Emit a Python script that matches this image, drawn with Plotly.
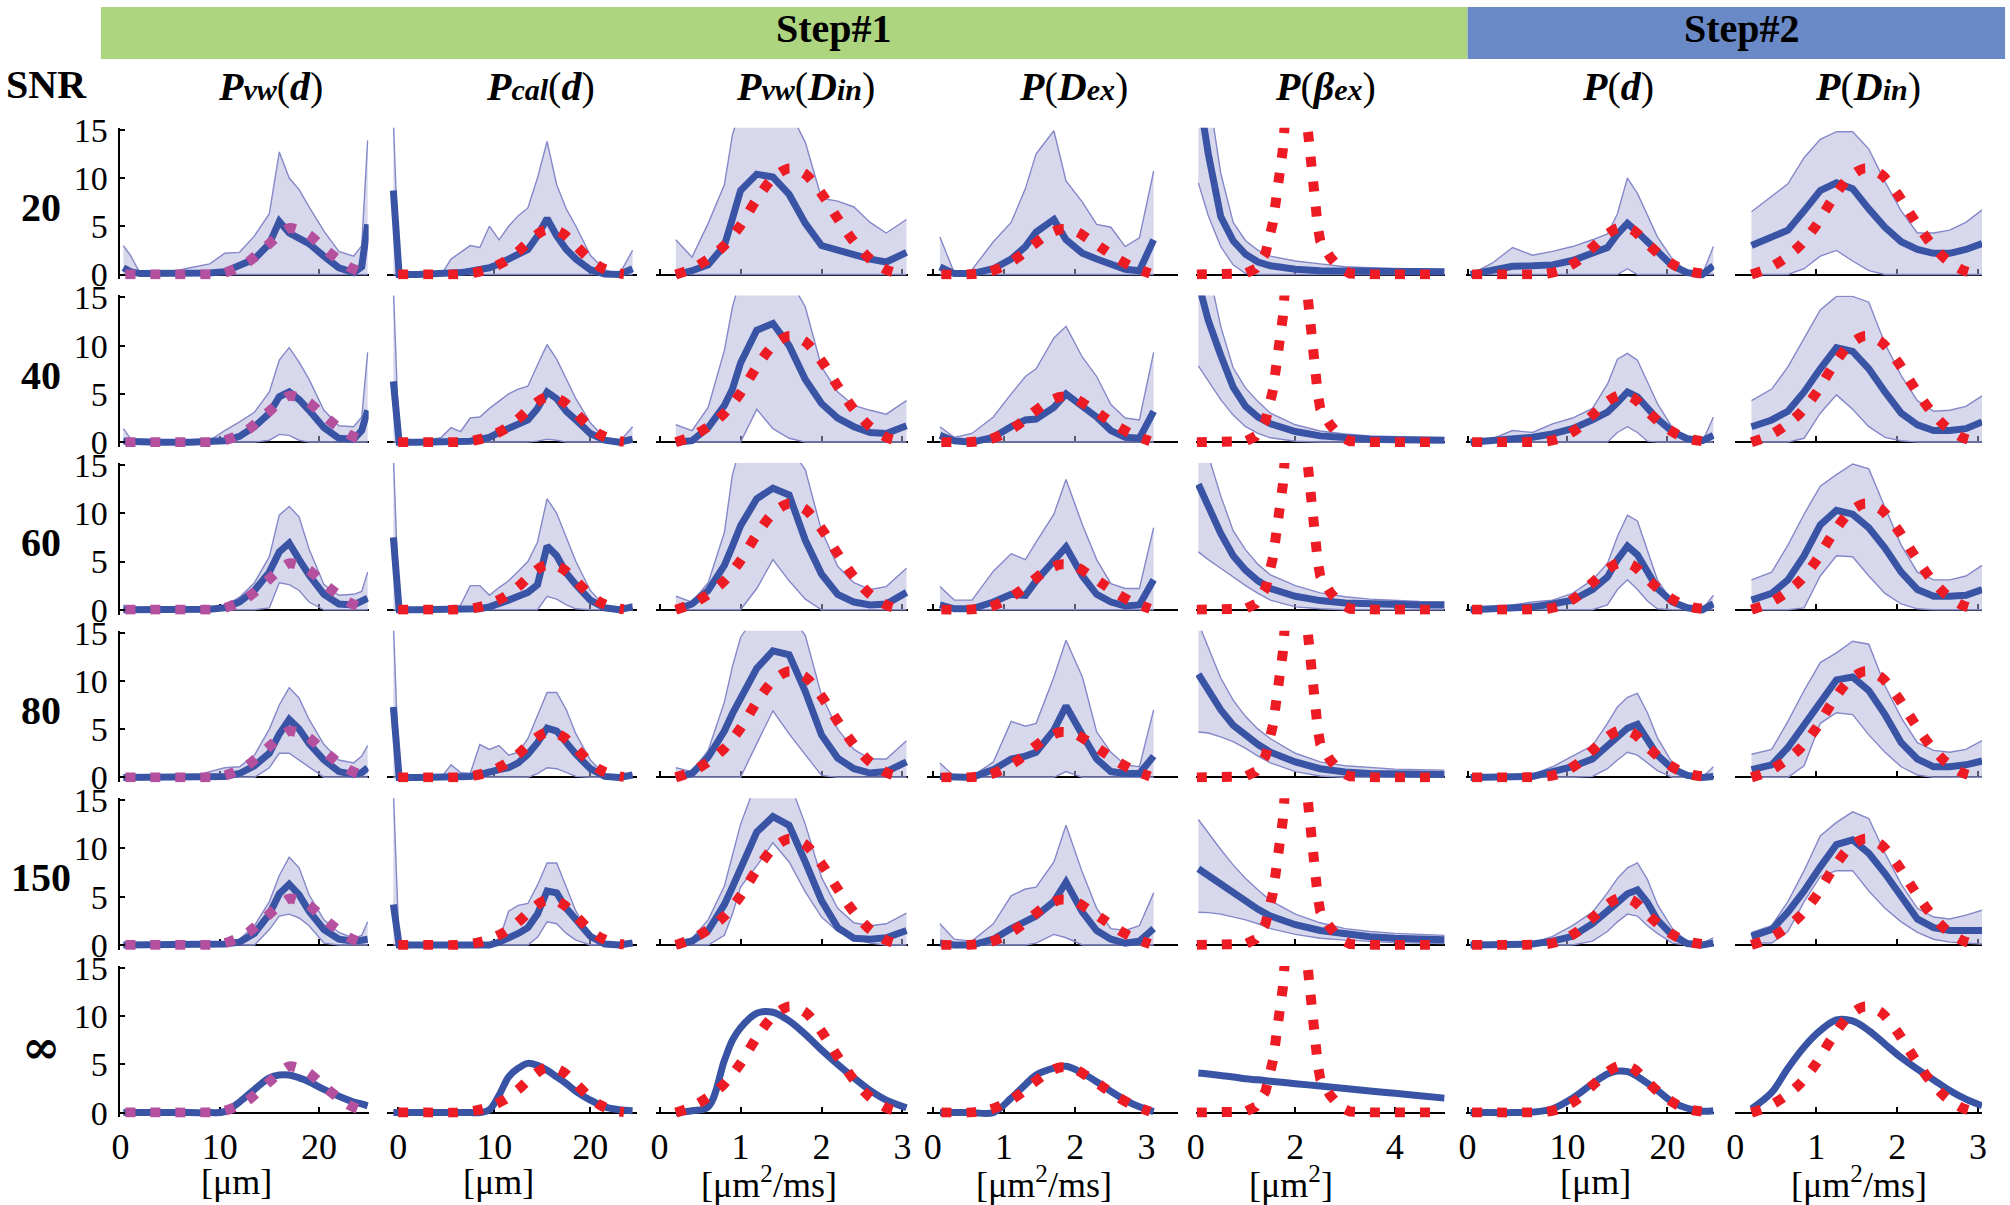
import plotly.graph_objects as go

W, H = 2010, 1205
FONT = "Liberation Serif"
# measured mapping page-px -> picture-px of the photographing step (used to pre-compensate)
CAL_AX, CAL_BX = 0.994, 7.0
CAL_AY, CAL_BY = 0.975, 15.0

# ---------------- text ----------------
STEP_LABELS = ["Step#1", "Step#2"]
SNR_LABELS = ["20", "40", "60", "80", "150", "∞"]
def _sub(s):
    return "<span style='font-size:30px'><b><i>" + s + "</i></b></span>"
_P = "<b><i>P</i></b>"
COLUMN_TITLES = [
    _P + _sub("vw") + "(<b><i>d</i></b>)",
    _P + _sub("cal") + "(<b><i>d</i></b>)",
    _P + _sub("vw") + "(<b><i>D</i></b>" + _sub("in") + ")",
    _P + "(<b><i>D</i></b>" + _sub("ex") + ")",
    _P + "(<b><i>β</i></b>" + _sub("ex") + ")",
    _P + "(<b><i>d</i></b>)",
    _P + "(<b><i>D</i></b>" + _sub("in") + ")",
]
AXIS_TITLES = ["[μm]", "[μm]", "[μm<sup>2</sup>/ms]", "[μm<sup>2</sup>/ms]",
               "[μm<sup>2</sup>]", "[μm]", "[μm<sup>2</sup>/ms]"]
X_TICKS = [[0, 10, 20], [0, 10, 20], [0, 1, 2, 3], [0, 1, 2, 3], [0, 2, 4],
           [0, 10, 20], [0, 1, 2, 3]]
Y_TICKS = [0, 5, 10, 15]

# ---------------- data ----------------
# Column 1: Pvw(d)
X_PVW_D = [0.3, 1, 2, 4, 7, 9, 10.5, 12, 13.5, 15, 16, 17, 18, 19, 20.5, 22, 23.5, 24.3, 24.9]
PVW_D_MEAN = [
    [0.7, 0.3, 0.1, 0.1, 0.1, 0.15, 0.3, 0.9, 1.6, 3.2, 5.5, 4.3, 3.8, 3.2, 1.9, 0.7, 0.2, 0.8, 5.2],
    [0.1, 0.05, 0, 0, 0, 0.05, 0.15, 0.6, 1.6, 3.0, 4.7, 5.2, 4.4, 3.3, 1.5, 0.4, 0.3, 1.2, 3.3],
    [0, 0, 0, 0, 0, 0.05, 0.2, 0.8, 2.0, 3.9, 6.0, 6.9, 5.2, 3.6, 1.6, 0.6, 0.5, 0.8, 1.2],
    [0, 0, 0, 0, 0, 0.05, 0.1, 0.4, 1.2, 2.5, 4.5, 6.0, 5.0, 3.5, 1.8, 0.6, 0.3, 0.5, 1.0],
    [0, 0, 0, 0, 0, 0.05, 0.1, 0.3, 1.2, 3.2, 5.3, 6.3, 5.2, 3.5, 1.6, 0.6, 0.4, 0.5, 0.6],
    [0, 0, 0, 0, 0, 0, 0.1, 1.1, 2.4, 3.6, 3.9, 3.9, 3.6, 3.2, 2.4, 1.7, 1.1, 0.9, 0.7],
]
PVW_D_UP = [
    [3.0, 2.0, 0.1, 0, 0.7, 1.1, 2.2, 2.3, 4.0, 6.3, 12.7, 10.0, 8.8, 7.0, 4.5, 2.4, 1.9, 3.0, 13.9],
    [1.4, 0.4, 0, 0, 0, 0.2, 1.2, 2.1, 3.1, 5.2, 8.5, 9.8, 8.3, 6.5, 3.3, 1.7, 1.6, 2.6, 9.3],
    [0.5, 0.1, 0, 0, 0, 0.1, 0.4, 1.3, 2.8, 5.5, 9.8, 10.7, 9.6, 6.3, 2.6, 1.5, 1.6, 1.9, 3.9],
    [0, 0, 0, 0, 0, 0.6, 1.0, 1.1, 2.3, 5.0, 7.5, 9.3, 8.2, 6.0, 3.4, 1.8, 1.5, 2.2, 3.3],
    [0, 0, 0, 0, 0, 0, 0.1, 0.6, 2.0, 4.5, 7.2, 9.1, 8.0, 5.2, 2.6, 1.3, 0.7, 1.0, 2.4],
]
PVW_D_LO = [
    [0, 0, 0, 0, 0, 0, 0, 0, 0, 0, 0, 0, 0, 0, 0, 0, 0, 0, 0],
    [0, 0, 0, 0, 0, 0, 0, 0, 0, 0.2, 0.8, 0.7, 0.2, 0, 0, 0, 0, 0, 0],
    [0, 0, 0, 0, 0, 0, 0, 0, 0, 0.2, 2.8, 2.6, 2.0, 0.8, 0, 0, 0, 0, 0],
    [0, 0, 0, 0, 0, 0, 0, 0, 0, 1.0, 2.5, 2.5, 1.8, 1.1, 0, 0, 0, 0, 0],
    [0, 0, 0, 0, 0, 0, 0, 0, 0, 1.6, 3.0, 3.2, 2.8, 2.0, 0.2, 0, 0, 0, 0],
]
T_PVW_D_X = [0.5, 3, 5.5, 8, 10, 11, 12, 13, 14, 15, 16, 17, 18, 19, 20, 21, 22, 23, 24, 24.7]
T_PVW_D = [0, 0, 0, 0, 0.05, 0.35, 0.8, 1.4, 2.3, 3.2, 4.1, 4.8, 4.6, 4.1, 3.2, 2.3, 1.5, 0.8, 0.35, 0.2]

# Column 2: Pcal(d)
X_PCAL_D = [-0.5, 0.1, 2, 4.5, 5.5, 6.5, 7.5, 8.5, 9.5, 10.5, 11.5, 12.5, 13.5, 14.5, 15.5, 16.5, 17.5, 18.5, 20, 21.5, 23, 24.4]
PCAL_D_MEAN = [
    [8.7, 0, 0, 0.05, 0.1, 0.2, 0.35, 0.55, 0.7, 1.1, 1.6, 2.1, 2.6, 4.0, 5.8, 4.0, 2.6, 1.6, 0.5, 0.05, 0, 0.6],
    [6.3, 0, 0, 0, 0.02, 0.05, 0.1, 0.3, 0.5, 1.0, 1.5, 1.9, 2.3, 3.5, 5.2, 4.5, 3.2, 2.3, 0.9, 0.2, 0, 0.3],
    [7.5, 0, 0, 0, 0, 0, 0.05, 0.1, 0.3, 0.6, 1.0, 1.4, 1.8, 2.6, 6.6, 5.6, 3.8, 2.6, 1.0, 0.2, 0, 0.3],
    [7.3, 0, 0, 0, 0, 0, 0.1, 0.3, 0.6, 0.8, 1.0, 1.5, 2.4, 3.6, 5.1, 4.8, 3.6, 2.4, 0.9, 0.1, 0, 0.25],
    [4.2, 0, 0, 0, 0, 0, 0, 0, 0, 0.3, 0.7, 1.2, 1.8, 3.2, 5.6, 5.4, 3.8, 2.6, 0.9, 0.1, 0, 0.2],
    [0, 0, 0, 0, 0, 0, 0, 0, 0.3, 1.8, 3.7, 4.6, 5.1, 4.9, 4.4, 3.7, 3.0, 2.2, 1.3, 0.6, 0.3, 0.2],
]
PCAL_D_UP = [
    [16, 0, 0, 0, 1.6, 2.3, 3.0, 2.8, 5.0, 3.6, 5.0, 6.1, 6.9, 10.0, 13.8, 9.3, 6.8, 5.0, 2.0, 0.5, 0, 2.5],
    [16, 0, 0, 0.5, 1.5, 1.1, 2.5, 2.6, 3.5, 4.3, 5.0, 5.5, 5.8, 8.0, 10.1, 8.6, 6.5, 4.5, 2.0, 0.4, 0, 1.6],
    [16, 0, 0, 0, 0, 0.5, 2.5, 2.5, 1.5, 2.3, 3.0, 4.0, 5.0, 7.0, 11.5, 10.0, 7.5, 5.0, 2.0, 0.4, 0.1, 0.6],
    [16, 0, 0, 0, 1.3, 0.5, 0.4, 3.4, 2.9, 3.3, 2.3, 2.6, 4.0, 6.5, 8.8, 8.8, 7.0, 4.5, 1.8, 0.3, 0, 0.25],
    [16, 0, 0, 0, 0, 0, 0, 0, 0, 0.5, 3.5, 4.1, 4.3, 6.2, 8.5, 8.5, 6.0, 3.5, 1.0, 0.1, 0, 0.2],
]
PCAL_D_LO = [
    [0, 0, 0, 0, 0, 0, 0, 0, 0, 0, 0, 0, 0, 0, 0, 0, 0, 0, 0, 0, 0, 0],
    [0, 0, 0, 0, 0, 0, 0, 0, 0, 0, 0, 0, 0, 0.1, 0.3, 0.2, 0, 0, 0, 0, 0, 0],
    [0, 0, 0, 0, 0, 0, 0, 0, 0, 0, 0, 0, 0, 0, 1.4, 1.1, 0.5, 0.1, 0, 0, 0, 0],
    [0, 0, 0, 0, 0, 0, 0, 0, 0, 0, 0, 0, 0, 0.4, 1.0, 0.9, 0.5, 0.1, 0, 0, 0, 0],
    [0, 0, 0, 0, 0, 0, 0, 0, 0, 0, 0, 0, 0, 0.8, 2.4, 2.2, 1.2, 0.5, 0, 0, 0, 0],
]
T_PCAL_D_X = [0, 3, 6, 8, 9.5, 11, 12.5, 13.8, 15, 16, 17.2, 18.5, 19.7, 21, 22.5, 23.5]
T_PCAL_D = [0, 0, 0, 0.2, 0.6, 1.3, 2.4, 3.6, 4.5, 4.7, 4.2, 3.0, 1.8, 0.8, 0.2, 0.05]

# Column 3: Pvw(Din)
X_PVW_DIN = [0.2, 0.4, 0.6, 0.8, 0.9, 1.0, 1.2, 1.4, 1.6, 1.8, 2.0, 2.2, 2.4, 2.6, 2.8, 3.05]
PVW_DIN_MEAN = [
    [0, 0.4, 1.0, 3.0, 5.8, 8.7, 10.4, 10.1, 8.3, 5.3, 3.0, 2.5, 2.1, 1.6, 1.3, 2.3],
    [0, 0.15, 1.5, 3.8, 5.5, 8.2, 11.6, 12.3, 10.0, 6.5, 4.0, 2.5, 1.6, 1.0, 0.9, 1.7],
    [0, 0.6, 2.0, 4.6, 6.6, 8.7, 11.5, 12.6, 11.9, 7.2, 3.7, 1.6, 0.8, 0.5, 0.6, 1.8],
    [0, 0.4, 2.1, 4.8, 6.6, 8.3, 11.3, 13.1, 12.7, 8.9, 4.4, 2.0, 0.9, 0.45, 0.6, 1.6],
    [0, 0.4, 1.5, 4.2, 6.0, 7.8, 11.7, 13.3, 12.4, 8.6, 4.6, 1.8, 0.7, 0.6, 0.75, 1.5],
    [0, 0.2, 0.6, 5.4, 7.5, 8.8, 10.3, 10.4, 9.5, 8.1, 6.5, 5.0, 3.6, 2.3, 1.3, 0.5],
]
PVW_DIN_UP = [
    [3.6, 1.8, 5.3, 9.3, 14.5, 17, 18, 18, 17, 13.7, 7.9, 7.6, 7.0, 5.4, 4.3, 5.7],
    [1.8, 1.2, 3.6, 9.5, 14, 17, 17, 17, 17, 14, 7.8, 5.2, 3.8, 3.3, 2.9, 4.3],
    [1.4, 0.8, 2.8, 8.0, 14, 17, 17, 17, 17, 14.5, 8.2, 4.5, 2.8, 2.1, 2.4, 4.3],
    [1.0, 0.6, 2.8, 7.8, 11.5, 14.5, 17, 17, 17, 14.7, 8.5, 5.0, 2.9, 1.9, 1.9, 3.8],
    [0.4, 0.7, 2.6, 6.1, 9.3, 12.5, 17, 17, 17, 12.5, 7.0, 3.8, 2.3, 2.0, 2.2, 3.3],
]
PVW_DIN_LO = [
    [0, 0, 0, 0, 0, 0, 0, 0, 0, 0, 0, 0, 0, 0, 0, 0],
    [0, 0, 0, 0, 0, 0, 3.4, 1.4, 0.4, 0, 0, 0, 0, 0, 0, 0],
    [0, 0, 0, 0, 0, 0, 2.2, 5.2, 3.0, 1.1, 0, 0, 0, 0, 0, 0],
    [0, 0, 0, 0, 0, 0, 3.5, 6.9, 4.5, 2.3, 0.2, 0, 0, 0, 0, 0],
    [0, 0, 0, 1.0, 3.2, 6.0, 8.2, 10.6, 8.6, 5.5, 2.9, 1.4, 0.6, 0.2, 0, 0],
]
T_DIN_X = [0.2, 0.4, 0.6, 0.8, 1.0, 1.2, 1.4, 1.6, 1.8, 2.0, 2.2, 2.4, 2.6, 2.8, 3.0]
T_DIN = [0, 0.6, 1.6, 3.0, 5.1, 7.8, 10.0, 11.0, 10.4, 8.4, 5.8, 3.4, 1.6, 0.5, 0.0]

# Column 4: P(Dex)
X_DEX = [0.1, 0.3, 0.55, 0.85, 1.1, 1.3, 1.45, 1.7, 1.87, 2.1, 2.3, 2.5, 2.7, 2.9, 3.1]
DEX_MEAN = [
    [0.8, 0.1, 0.1, 0.6, 1.6, 2.9, 4.4, 5.7, 3.6, 2.2, 1.6, 1.1, 0.55, 0.4, 3.6],
    [0.7, 0.15, 0, 0.5, 1.6, 2.3, 2.4, 3.6, 5.0, 3.8, 2.6, 1.2, 0.5, 0.4, 3.2],
    [0.5, 0.1, 0.1, 0.8, 1.6, 1.5, 3.0, 5.1, 6.5, 3.5, 1.6, 0.8, 0.4, 0.5, 3.1],
    [0.1, 0, 0, 0.8, 1.9, 2.2, 2.6, 4.9, 7.4, 4.4, 1.9, 0.6, 0.4, 0.4, 2.2],
    [0.2, 0, 0, 0.6, 1.7, 2.4, 3.0, 4.5, 6.5, 3.4, 1.5, 0.6, 0.2, 0.4, 1.7],
    [0, 0, 0, 0, 1.5, 2.9, 3.9, 4.6, 4.8, 4.1, 3.2, 2.2, 1.3, 0.6, 0.1],
]
DEX_UP = [
    [3.9, 0.2, 0.5, 3.4, 5.4, 8.9, 12.5, 14.9, 9.7, 7.5, 5.2, 4.9, 2.9, 3.8, 10.7],
    [1.6, 0.5, 0.9, 2.6, 5.0, 6.8, 7.6, 10.8, 12.0, 8.8, 6.8, 3.9, 2.5, 2.3, 9.3],
    [2.4, 1.0, 1.0, 4.0, 5.8, 5.2, 7.0, 9.9, 13.5, 8.8, 5.2, 2.7, 2.2, 2.2, 8.5],
    [1.5, 0.1, 0.1, 1.6, 5.8, 5.3, 5.6, 10.4, 14.2, 10.4, 4.7, 2.6, 1.3, 1.1, 7.0],
    [2.2, 0.6, 0.4, 2.2, 5.1, 5.8, 6.0, 8.6, 12.4, 7.5, 3.8, 1.7, 1.5, 2.0, 5.4],
]
DEX_LO = [
    [0, 0, 0, 0, 0, 0, 0, 0, 0, 0, 0, 0, 0, 0, 0],
    [0, 0, 0, 0, 0, 0, 0, 0, 0, 0, 0, 0, 0, 0, 0],
    [0, 0, 0, 0, 0, 0, 0, 0, 0, 0, 0, 0, 0, 0, 0],
    [0, 0, 0, 0, 0, 0, 0, 0, 0.6, 0, 0, 0, 0, 0, 0],
    [0, 0, 0, 0, 0, 0, 0.2, 1.1, 0.75, 0, 0, 0, 0, 0, 0],
]
T_DEX_X = [0.12, 0.5, 0.8, 1.0, 1.2, 1.4, 1.6, 1.8, 2.0, 2.2, 2.4, 2.6, 2.8, 3.05]
T_DEX = [0, 0, 0.3, 0.9, 1.8, 3.0, 4.1, 4.7, 4.5, 3.6, 2.6, 1.6, 0.8, 0.1]

# Column 5: P(beta_ex)
X_BEX = [0.05, 0.25, 0.5, 0.75, 1.0, 1.25, 1.5, 2.0, 2.5, 3.0, 3.5, 4.0, 4.5, 5.0]
BEX_MEAN = [
    [19, 12.5, 6.0, 3.5, 2.1, 1.3, 0.9, 0.55, 0.4, 0.4, 0.35, 0.3, 0.3, 0.3],
    [16.5, 12.6, 9.0, 5.7, 3.7, 2.6, 1.9, 1.1, 0.65, 0.4, 0.3, 0.25, 0.2, 0.2],
    [13, 10.8, 7.9, 5.6, 4.1, 3.0, 2.2, 1.4, 0.95, 0.7, 0.6, 0.55, 0.5, 0.5],
    [10.7, 9.0, 7.0, 5.4, 4.3, 3.4, 2.6, 1.6, 0.9, 0.55, 0.4, 0.35, 0.3, 0.3],
    [7.9, 7.2, 6.3, 5.4, 4.5, 3.7, 3.0, 2.1, 1.5, 1.1, 0.85, 0.7, 0.6, 0.55],
    [4.1, 4.0, 3.85, 3.7, 3.5, 3.4, 3.25, 3.0, 2.75, 2.5, 2.25, 2.0, 1.75, 1.5],
]
BEX_UP = [
    [22, 19, 10.5, 5.4, 3.5, 2.5, 1.9, 1.4, 1.1, 0.8, 0.7, 0.6, 0.6, 0.5],
    [20, 18, 12, 7.7, 5.6, 4.2, 3.0, 1.8, 1.15, 0.85, 0.65, 0.55, 0.5, 0.45],
    [16, 16, 11.8, 8.2, 6.2, 4.7, 3.6, 2.5, 1.75, 1.35, 1.1, 0.95, 0.85, 0.8],
    [16, 13.5, 10.3, 8.0, 6.3, 5.0, 4.0, 2.5, 1.6, 1.2, 1.0, 0.85, 0.8, 0.75],
    [13, 11.6, 9.9, 8.3, 6.9, 5.7, 4.6, 3.2, 2.3, 1.7, 1.4, 1.2, 1.1, 1.0],
]
BEX_LO = [
    [9.5, 6.1, 2.9, 1.0, 0.1, 0, 0, 0, 0, 0, 0, 0, 0, 0],
    [7.9, 6.3, 4.4, 2.8, 1.6, 0.9, 0.45, 0.1, 0, 0, 0, 0, 0, 0],
    [6.0, 5.2, 4.3, 3.4, 2.5, 1.7, 1.0, 0.3, 0.1, 0, 0, 0, 0, 0],
    [4.7, 4.6, 4.2, 3.7, 3.0, 2.2, 1.5, 0.6, 0.15, 0, 0, 0, 0, 0],
    [3.4, 3.35, 3.2, 2.9, 2.6, 2.2, 1.7, 1.1, 0.7, 0.5, 0.35, 0.25, 0.2, 0.15],
]
T_BEX_X = [0.02, 0.6, 1.0, 1.2, 1.4, 1.55, 1.65, 1.75, 1.85, 2.0, 2.15, 2.25, 2.35, 2.45, 2.5, 2.7, 2.9, 3.1, 3.6, 4.1, 4.6, 5.0]
T_BEX = [0, 0, 0.1, 0.6, 2.2, 5.4, 8.5, 13, 20, 25, 20, 14, 9.5, 5.0, 3.5, 1.8, 0.6, 0.1, 0, 0, 0, 0]

# Column 6: P(d)  (step 2)
X_D = [0.3, 2.5, 4.5, 6.5, 8.5, 10.5, 12.5, 14, 15, 16, 17, 18, 19, 20.5, 22, 23.5, 24.6]
D_MEAN = [
    [0, 0.45, 0.85, 0.9, 1.0, 1.45, 2.2, 2.8, 4.2, 5.3, 4.4, 3.3, 2.4, 0.9, 0.2, 0, 0.9],
    [0, 0.15, 0.3, 0.5, 0.85, 1.4, 2.3, 3.1, 4.1, 5.2, 4.7, 3.5, 2.4, 1.1, 0.35, 0.15, 0.7],
    [0, 0.05, 0.1, 0.3, 0.6, 1.0, 2.1, 3.4, 5.2, 6.6, 5.7, 3.9, 2.2, 0.8, 0.2, 0, 0.6],
    [0, 0, 0, 0.1, 0.6, 1.1, 1.9, 3.3, 4.4, 5.1, 5.5, 3.9, 2.3, 0.9, 0.2, 0, 0.1],
    [0, 0, 0, 0.1, 0.4, 0.9, 2.2, 3.4, 4.4, 5.3, 5.7, 4.4, 2.6, 1.0, 0.15, 0, 0.2],
    [0, 0, 0, 0.05, 0.4, 1.5, 3.0, 4.0, 4.3, 4.25, 3.75, 3.05, 2.3, 1.1, 0.45, 0.15, 0.2],
]
D_UP = [
    [0, 1.2, 2.8, 2.0, 2.4, 2.9, 3.6, 4.2, 6.3, 10.0, 8.4, 6.1, 3.9, 1.6, 0.3, 0, 2.9],
    [0, 0.35, 1.2, 1.0, 1.9, 2.5, 3.5, 6.0, 8.6, 9.2, 8.5, 6.3, 4.0, 1.5, 0.4, 0, 2.6],
    [0, 0.2, 0.5, 0.8, 1.0, 1.7, 3.1, 4.8, 7.6, 9.8, 9.2, 6.1, 3.1, 0.8, 0.1, 0, 1.5],
    [0, 0, 0, 0.3, 1.1, 2.2, 3.3, 5.6, 7.3, 8.3, 8.7, 6.7, 4.1, 1.5, 0.1, 0, 1.1],
    [0, 0, 0, 0.2, 0.9, 2.0, 3.4, 5.4, 6.9, 8.0, 8.5, 6.8, 4.2, 1.7, 0.35, 0.2, 0.75],
]
D_LO = [
    [0, 0, 0, 0, 0, 0, 0, 0, 0, 0.6, 0, 0, 0, 0, 0, 0, 0],
    [0, 0, 0, 0, 0, 0, 0, 0, 1.0, 1.6, 1.0, 0.1, 0, 0, 0, 0, 0],
    [0, 0, 0, 0, 0, 0, 0, 0.5, 2.1, 3.1, 2.1, 0.9, 0.1, 0, 0, 0, 0],
    [0, 0, 0, 0, 0, 0, 0.1, 0.9, 1.8, 2.6, 2.3, 1.5, 0.7, 0, 0, 0, 0],
    [0, 0, 0, 0, 0, 0, 0.4, 1.4, 2.4, 3.2, 3.0, 2.0, 1.2, 0.2, 0, 0, 0],
]
T_D_X = [0.45, 3, 5.5, 8, 9.5, 11, 12.5, 14, 15, 15.8, 16.7, 18, 19.5, 21, 22.5, 24]
T_D = [0, 0, 0, 0.1, 0.5, 1.4, 2.8, 4.2, 4.8, 4.9, 4.5, 3.2, 1.8, 0.8, 0.25, 0.05]

# Column 7: P(Din)  (step 2)
X_DIN = [0.2, 0.45, 0.65, 0.85, 1.05, 1.25, 1.45, 1.65, 1.85, 2.05, 2.25, 2.45, 2.65, 2.85, 3.05]
DIN_MEAN = [
    [3.0, 3.8, 4.6, 6.6, 8.7, 9.5, 8.9, 6.8, 4.9, 3.4, 2.6, 2.2, 2.2, 2.6, 3.2],
    [1.6, 2.3, 3.2, 5.2, 7.6, 9.8, 9.4, 7.6, 5.2, 3.0, 1.8, 1.2, 1.2, 1.4, 2.1],
    [1.0, 1.7, 3.1, 5.6, 8.8, 10.3, 9.9, 8.5, 6.4, 3.9, 2.1, 1.4, 1.4, 1.5, 2.1],
    [0.8, 1.3, 3.1, 5.4, 7.9, 10.1, 10.4, 9.0, 6.5, 3.6, 1.9, 1.1, 1.1, 1.3, 1.7],
    [0.9, 1.6, 3.4, 5.6, 8.1, 10.4, 10.9, 9.5, 7.4, 4.9, 2.7, 1.8, 1.5, 1.5, 1.5],
    [0.4, 2.1, 4.6, 6.8, 8.5, 9.6, 9.5, 8.5, 7.1, 5.7, 4.5, 3.4, 2.3, 1.4, 0.7],
]
DIN_UP = [
    [6.5, 8.1, 9.4, 12.1, 14.0, 14.8, 14.8, 13.0, 9.6, 6.6, 4.3, 4.3, 4.6, 5.4, 6.7],
    [4.3, 5.5, 7.8, 10.7, 13.7, 15.1, 15.1, 14.5, 10.2, 6.9, 4.3, 3.2, 3.3, 3.7, 4.8],
    [3.1, 3.9, 6.7, 9.9, 12.8, 14.0, 15.1, 14.6, 10.6, 6.7, 3.9, 3.1, 3.1, 3.5, 4.6],
    [2.4, 2.9, 5.8, 9.0, 11.9, 12.9, 14.1, 13.8, 9.5, 6.2, 3.6, 2.8, 2.6, 2.9, 3.8],
    [1.3, 2.0, 4.5, 7.7, 11.3, 12.7, 13.8, 13.1, 9.5, 6.3, 3.8, 2.9, 2.7, 3.1, 3.6],
]
DIN_LO = [
    [0, 0, 0, 0.6, 1.9, 2.5, 1.4, 0.4, 0, 0, 0, 0, 0, 0, 0],
    [0, 0, 0, 0.4, 3.0, 4.9, 3.4, 1.6, 0.5, 0.15, 0, 0, 0, 0, 0],
    [0, 0, 0, 0.2, 3.5, 5.6, 5.5, 3.5, 1.7, 0.6, 0.1, 0, 0, 0, 0],
    [0, 0, 0, 1.2, 5.6, 6.7, 6.5, 4.4, 2.6, 1.1, 0.25, 0, 0, 0, 0],
    [0.2, 0.2, 1.4, 4.5, 7.1, 7.7, 7.7, 5.6, 3.8, 2.4, 1.3, 0.6, 0.3, 0.2, 0.1],
]

# ---------------- style / layout ----------------
BLUE = "#3a54a5"
RED = "#ed1c24"
MAG = "#b4509e"
EDGE = "#8488c8"
FILL = "rgba(178,178,218,0.5)"
GREEN_BAR = "#add580"
BLUE_BAR = "#6a8ac7"

COL_PX = [(118.5, 367), (385, 636), (655, 907), (926, 1177), (1195, 1444), (1465, 1714), (1735, 1982)]
X_RANGES = [[0, 25], [-1.2, 24.9], [-0.04, 3.07], [-0.08, 3.44], [0, 5.0], [-0.2, 24.7], [0, 3.05]]
Y_RANGE = [-0.5, 15.2]
Z0, PITCH, PXU = 273.5, 167.6, 9.65   # target y of value 0 in row 1, row pitch, px per unit

def px(X):
    return ((X - CAL_BX) / CAL_AX) / W

def py(Y):
    return 1 - ((Y - CAL_BY) / CAL_AY) / H

COLUMNS = [
    (X_PVW_D, PVW_D_MEAN, PVW_D_UP, PVW_D_LO, T_PVW_D_X, T_PVW_D, MAG, "spline"),
    (X_PCAL_D, PCAL_D_MEAN, PCAL_D_UP, PCAL_D_LO, T_PCAL_D_X, T_PCAL_D, RED, "spline"),
    (X_PVW_DIN, PVW_DIN_MEAN, PVW_DIN_UP, PVW_DIN_LO, T_DIN_X, T_DIN, RED, "spline"),
    (X_DEX, DEX_MEAN, DEX_UP, DEX_LO, T_DEX_X, T_DEX, RED, "spline"),
    (X_BEX, BEX_MEAN, BEX_UP, BEX_LO, T_BEX_X, T_BEX, RED, "linear"),
    (X_D, D_MEAN, D_UP, D_LO, T_D_X, T_D, RED, "spline"),
    (X_DIN, DIN_MEAN, DIN_UP, DIN_LO, T_DIN_X, T_DIN, RED, "spline"),
]

fig = go.Figure()
layout = dict(
    width=W, height=H, autosize=False, margin=dict(l=0, r=0, t=0, b=0, pad=0),
    paper_bgcolor="white", plot_bgcolor="rgba(0,0,0,0)",
    showlegend=False, font=dict(family=FONT, color="black"),
)

for r in range(6):
    Z = Z0 + PITCH * r
    ybot = Z - Y_RANGE[0] * PXU
    ytop = Z - Y_RANGE[1] * PXU
    for c in range(7):
        n = r * 7 + c + 1
        xs = "" if n == 1 else str(n)
        layout["xaxis" + xs] = dict(
            domain=[px(COL_PX[c][0]), px(COL_PX[c][1])], range=X_RANGES[c],
            anchor="free", position=py(Z),
            showline=True, linecolor="black", linewidth=2,
            ticks="inside", ticklen=5, tickwidth=1.5, tickcolor="black",
            tickmode="array", tickvals=X_TICKS[c], showticklabels=(r == 5),
            tickfont=dict(size=36, family=FONT), ticklabelstandoff=2,
            showgrid=False, zeroline=False, layer="below traces", fixedrange=True,
        )
        ya = dict(
            domain=[py(ybot), py(ytop)], range=Y_RANGE, anchor="x" + xs,
            showgrid=False, zeroline=False, fixedrange=True,
        )
        if c == 0:
            ya.update(showline=True, linecolor="black", linewidth=1.5,
                      ticks="inside", ticklen=5, tickwidth=1.5, tickcolor="black",
                      tickmode="array", tickvals=Y_TICKS,
                      tickfont=dict(size=34, family=FONT), ticklabelstandoff=4)
        else:
            ya.update(visible=False)
        layout["yaxis" + xs] = ya

        xg, mean, up, lo, tx, ty, tcol, tshape = COLUMNS[c]
        xr, yr = "x" + xs, "y" + xs
        if r < 5:
            fig.add_trace(go.Scatter(x=xg, y=lo[r], mode="lines", xaxis=xr, yaxis=yr,
                                     line=dict(color=EDGE, width=1.4), hoverinfo="skip"))
            fig.add_trace(go.Scatter(x=xg, y=up[r], mode="lines", xaxis=xr, yaxis=yr,
                                     fill="tonexty", fillcolor=FILL,
                                     line=dict(color=EDGE, width=1.4), hoverinfo="skip"))
        fig.add_trace(go.Scatter(x=xg, y=mean[r], mode="lines", xaxis=xr, yaxis=yr,
                                 line=dict(color=BLUE, width=7,
                                           shape="spline" if r == 5 else "linear"),
                                 hoverinfo="skip"))
        fig.add_trace(go.Scatter(x=tx, y=ty, mode="lines", xaxis=xr, yaxis=yr,
                                 line=dict(color=tcol, width=10, dash="10px,15px",
                                           shape=tshape, smoothing=0.8),
                                 hoverinfo="skip"))

ann = []
def add_text(x, y, text, size, family=FONT):
    ann.append(dict(x=px(x), y=py(y), xref="paper", yref="paper", text=text,
                    showarrow=False, xanchor="center", yanchor="middle",
                    font=dict(size=size, family=family, color="black")))

add_text(833, 27, "<b>" + STEP_LABELS[0] + "</b>", 40)
add_text(1742, 27, "<b>" + STEP_LABELS[1] + "</b>", 40)
add_text(45, 83, "<b>SNR</b>", 40)
TITLE_X = [269, 539, 804, 1073, 1325, 1618, 1868]
for c in range(7):
    add_text(TITLE_X[c], 85, COLUMN_TITLES[c], 40)
for r in range(6):
    if r == 5:
        add_text(39, Z0 + PITCH * r - 66, "<b>" + SNR_LABELS[r] + "</b>", 46, "DejaVu Serif")
    else:
        add_text(39, Z0 + PITCH * r - 67, "<b>" + SNR_LABELS[r] + "</b>", 40)
AXT_X = [235, 497, 768, 1043, 1290, 1595, 1859]
for c in range(7):
    add_text(AXT_X[c], 1181, AXIS_TITLES[c], 36)

layout["annotations"] = ann
layout["shapes"] = [
    dict(type="rect", xref="paper", yref="paper", x0=px(99), x1=px(1467),
         y0=py(58), y1=py(6), fillcolor=GREEN_BAR, line=dict(width=0), layer="below"),
    dict(type="rect", xref="paper", yref="paper", x0=px(1467), x1=px(2005),
         y0=py(58), y1=py(6), fillcolor=BLUE_BAR, line=dict(width=0), layer="below"),
]
fig.update_layout(**layout)

fig.write_html("out.html", config={"displayModeBar": False},
               post_script="document.body.style.margin='0';document.body.style.overflow='hidden';")
